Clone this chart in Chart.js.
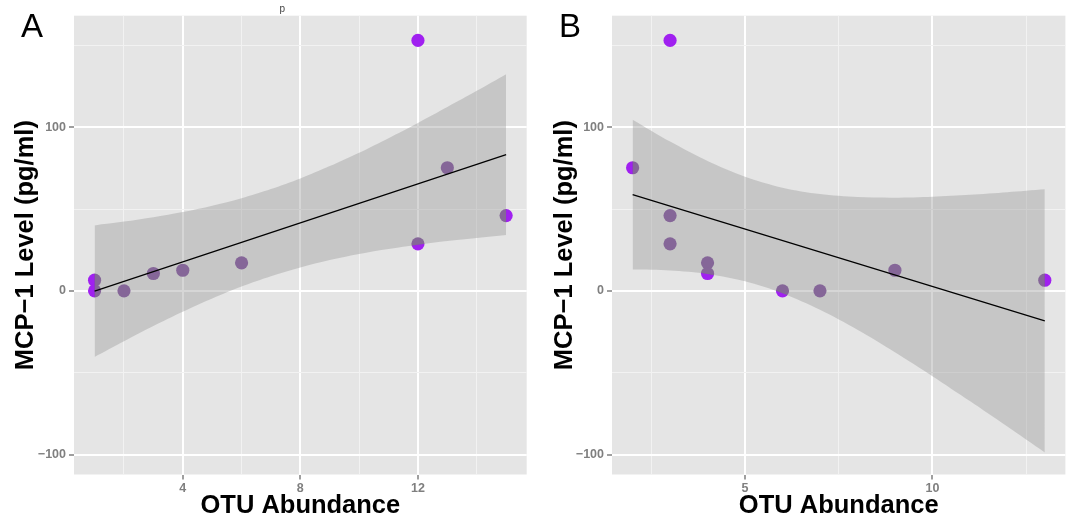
<!DOCTYPE html>
<html><head><meta charset="utf-8">
<script src="https://cdn.jsdelivr.net/npm/chart.js@4.4.1/dist/chart.umd.min.js"></script>
<style>
html,body{margin:0;padding:0;background:#fff;width:1072px;height:519px;overflow:hidden;}
.panel{position:absolute;top:0;width:536px;height:519px;}
.lab{position:absolute;font-family:"Liberation Sans",Arial,Helvetica,sans-serif;color:#000;line-height:1;white-space:nowrap;}
</style></head><body>
<div class="panel" style="left:0"><canvas id="cA" width="536" height="519"></canvas></div>
<div class="panel" style="left:536px"><canvas id="cB" width="536" height="519"></canvas></div>
<div class="lab" style="left:21px;top:9.4px;font-size:33px;">A</div>
<div class="lab" style="left:559px;top:9.4px;font-size:33px;">B</div>
<div class="lab" style="left:279.5px;top:4px;font-size:10px;color:#444;">p</div>
<script>
// ---------- data ----------
const yTitle = 'MCP\u22121 Level (pg/ml)';
const xTitle = 'OTU Abundance';
const yMajorTicks = [-100, 0, 100];
const yMinorTicks = [-50, 50, 150];

// Panel A
const xA = [1, 1, 2, 3, 4, 6, 12, 12, 13, 15];
const yA = [6.5, 0, 0, 10.6, 12.6, 17.1, 153, 28.7, 75.2, 46];
const fitAX = [1, 15];
const fitAY = [-0.2, 83.2];
const bandAX = [1, 2, 3, 4, 5, 6, 7, 8, 9, 10, 11, 12, 13, 14, 15];
const bandAUpper = [40.0, 42.3, 45.0, 48.1, 52.0, 56.6, 62.2, 68.7, 76.2, 84.4, 93.3, 102.6, 112.3, 122.2, 132.4];
const bandALower = [-40.4, -30.8, -21.5, -12.8, -4.7, 2.6, 8.9, 14.3, 18.8, 22.5, 25.5, 28.1, 30.4, 32.3, 34.1];
const xMajorA = [4, 8, 12];
const xMinorA = [2, 6, 10, 14];

// Panel B
const xB = [2, 3, 3, 3, 4, 4, 6, 7, 9, 13];
const yB = [75.2, 153, 46, 28.7, 17.1, 10.6, 0, 0, 12.6, 6.5];
const fitBX = [2, 13];
const fitBY = [58.8, -18.3];
const bandBX = [2, 3, 4, 5, 6, 7, 8, 9, 10, 11, 12, 13];
const bandBUpper = [104.6, 91.2, 79.3, 69.7, 63.0, 59.1, 57.3, 56.9, 57.5, 58.7, 60.3, 62.1];
const bandBLower = [13.0, 12.4, 10.3, 5.8, -1.5, -11.6, -23.8, -37.5, -52.1, -67.3, -82.9, -98.7];
const xMajorB = [5, 10];
const xMinorB = [2.5, 7.5, 12.5];

// ---------- helpers ----------
const pts = (xs, ys) => xs.map((x, i) => ({x: x, y: ys[i]}));
const FONT = '"Liberation Sans", Arial, Helvetica, sans-serif';
const fmt = v => (v < 0 ? '\u2212' + Math.abs(v) : String(v));
const TENSION = 0.3;

// desaturate whatever lies under the confidence band (mimics the muted points of the original)
const bandTone = {
  id: 'bandTone',
  afterDatasetDraw(chart, args) {
    if (args.index !== 1) return;
    const up = chart.getDatasetMeta(1).data, lo = chart.getDatasetMeta(2).data;
    const ctx = chart.ctx, a = chart.chartArea;
    const has = p => p.cp1x !== undefined && p.cp2x !== undefined;
    ctx.save();
    ctx.beginPath(); ctx.rect(a.left, a.top, a.right - a.left, a.bottom - a.top); ctx.clip();
    ctx.beginPath();
    ctx.moveTo(up[0].x, up[0].y);
    for (let i = 1; i < up.length; i++) {
      const p = up[i - 1], q = up[i];
      if (has(p) && has(q)) ctx.bezierCurveTo(p.cp2x, p.cp2y, q.cp1x, q.cp1y, q.x, q.y);
      else ctx.lineTo(q.x, q.y);
    }
    const n = lo.length - 1;
    ctx.lineTo(lo[n].x, lo[n].y);
    for (let i = n; i > 0; i--) {
      const p = lo[i], q = lo[i - 1];
      if (has(p) && has(q)) ctx.bezierCurveTo(p.cp1x, p.cp1y, q.cp2x, q.cp2y, q.x, q.y);
      else ctx.lineTo(q.x, q.y);
    }
    ctx.closePath();
    ctx.globalCompositeOperation = 'saturation';
    ctx.globalAlpha = 0.6;
    ctx.fillStyle = '#808080';
    ctx.fill();
    ctx.restore();
  }
};

function makeChart(id, o) {
  const H = 519;
  const isMaj = (arr, v) => arr.some(a => Math.abs(a - v) < 1e-9);
  const gridOpts = (majors) => ({
    color: c => (c.tick && isMaj(majors, c.tick.value)) ? '#ffffff' : '#f2f2f2',
    lineWidth: c => (c.tick && isMaj(majors, c.tick.value)) ? 2 : 1,
    tickColor: c => (c.tick && isMaj(majors, c.tick.value)) ? '#7f7f7f' : 'rgba(0,0,0,0)',
    tickWidth: 1.5,
    tickLength: 5,
    drawTicks: true,
    drawOnChartArea: true
  });
  return new Chart(document.getElementById(id), {
    type: 'scatter',
    data: {
      datasets: [
        { type: 'line', data: pts(o.fitX, o.fitY), borderColor: '#000', borderWidth: 1.2,
          pointRadius: 0, fill: false, tension: 0 },
        { type: 'line', data: pts(o.bandX, o.bandU), borderWidth: 0, borderColor: 'rgba(0,0,0,0)',
          pointRadius: 0, fill: '+1', backgroundColor: 'rgba(153,153,153,0.4)', tension: TENSION },
        { type: 'line', data: pts(o.bandX, o.bandL), borderWidth: 0, borderColor: 'rgba(0,0,0,0)',
          pointRadius: 0, fill: false, tension: TENSION },
        { type: 'scatter', data: pts(o.x, o.y), backgroundColor: '#a020f0', borderWidth: 0,
          pointRadius: 6.6, pointHoverRadius: 6.6 }
      ]
    },
    options: {
      responsive: false, animation: false, devicePixelRatio: 1,
      layout: { padding: { left: 0, top: 15.7, right: o.padRight, bottom: 0 } },
      plugins: { legend: { display: false }, tooltip: { enabled: false } },
      events: [],
      scales: {
        x: {
          type: 'linear', min: o.xMin, max: o.xMax,
          afterBuildTicks: s => { s.ticks = o.xMajor.concat(o.xMinor).sort((a, b) => a - b).map(v => ({value: v})); },
          afterFit: s => { s.height = H - 474.5; },
          grid: gridOpts(o.xMajor),
          border: { display: false },
          ticks: { color: '#7f7f7f', font: { family: FONT, size: 12.5, weight: 'bold' }, padding: 1.5,
                   maxRotation: 0, autoSkip: false,
                   callback: v => isMaj(o.xMajor, v) ? fmt(v) : '' },
          title: { display: true, text: xTitle, color: '#000',
                   font: { family: FONT, size: 25.5, weight: 'bold', lineHeight: 1 },
                   padding: { top: 0, bottom: 0.5 } }
        },
        y: {
          type: 'linear', min: -112.2, max: 168.1,
          afterBuildTicks: s => { s.ticks = yMajorTicks.concat(yMinorTicks).sort((a, b) => a - b).map(v => ({value: v})); },
          afterFit: s => { s.width = o.plotLeft; },
          grid: gridOpts(yMajorTicks),
          border: { display: false },
          ticks: { color: '#7f7f7f', font: { family: FONT, size: 12.5, weight: 'bold' }, padding: 3,
                   autoSkip: false,
                   callback: v => isMaj(yMajorTicks, v) ? fmt(v) : '' },
          title: { display: true, text: yTitle, color: '#000',
                   font: { family: FONT, size: 25.5, weight: 'bold', lineHeight: 1 },
                   padding: { top: o.yTitlePad, bottom: 0 } }
        }
      }
    },
    plugins: [{
      id: 'bg',
      beforeDraw: c => {
        const a = c.chartArea, ctx = c.ctx;
        ctx.save(); ctx.fillStyle = '#e5e5e5';
        ctx.fillRect(a.left, a.top, a.right - a.left, a.bottom - a.top);
        ctx.restore();
      }
    }, bandTone]
  });
}

makeChart('cA', { x: xA, y: yA, fitX: fitAX, fitY: fitAY, bandX: bandAX, bandU: bandAUpper, bandL: bandALower,
  xMajor: xMajorA, xMinor: xMinorA, xMin: 0.3, xMax: 15.7, plotLeft: 74, padRight: 9.3, yTitlePad: 13.5 });
makeChart('cB', { x: xB, y: yB, fitX: fitBX, fitY: fitBY, bandX: bandBX, bandU: bandBUpper, bandL: bandBLower,
  xMajor: xMajorB, xMinor: xMinorB, xMin: 1.45, xMax: 13.55, plotLeft: 76, padRight: 5.4, yTitlePad: 16.5 });
</script>
</body></html>
